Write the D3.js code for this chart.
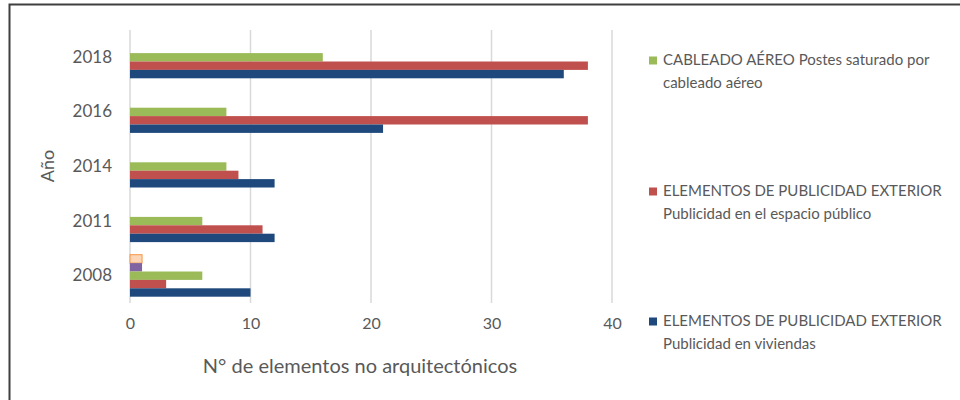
<!DOCTYPE html>
<html>
<head>
<meta charset="utf-8">
<script src="https://cdn.jsdelivr.net/npm/d3@7/dist/d3.min.js"></script>
<style>
  html, body { margin: 0; padding: 0; background: #fff; }
  svg { display: block; font-family: Lato, "Open Sans", sans-serif; }
  .tick text { fill: #595959; }
</style>
</head>
<body>
<svg id="chart" width="960" height="400"></svg>
<script>
// Categories (years) and series values
const years = ["2008", "2011", "2014", "2016", "2018"];
const cableadoAereo = [6, 6, 8, 8, 16];
const publicidadEspacio = [3, 11, 9, 38, 38];
const publicidadViviendas = [10, 12, 12, 21, 36];
const serie4 = [1, null, null, null, null];
const serie5 = [1, null, null, null, null];
const xTicks = [0, 10, 20, 30, 40];

const series = [
  { key: "s5", values: serie5, fill: "#FBD5B5", stroke: "#F79646" },
  { key: "s4", values: serie4, fill: "#8064A2", stroke: null },
  { key: "cab", values: cableadoAereo, fill: "#9BBB59", stroke: null },
  { key: "esp", values: publicidadEspacio, fill: "#C0504D", stroke: null },
  { key: "viv", values: publicidadViviendas, fill: "#1F497D", stroke: null }
];

const legendItems = [
  { lines: ["CABLEADO AÉREO Postes saturado por", "cableado aéreo"], color: "#9BBB59", y: 65 },
  { lines: ["ELEMENTOS DE PUBLICIDAD EXTERIOR", "Publicidad en el espacio público"], color: "#C0504D", y: 196 },
  { lines: ["ELEMENTOS DE PUBLICIDAD EXTERIOR", "Publicidad en viviendas"], color: "#1F497D", y: 326 }
];

const svg = d3.select("#chart");
const textColor = "#595959";

// Outer frame (top and left edges)
svg.append("path")
  .attr("d", "M9.5,400 L9.5,4.5 L960,4.5")
  .attr("fill", "none")
  .attr("stroke", "#3f3f3f")
  .attr("stroke-width", 2);

const x = d3.scaleLinear().domain([0, 40]).range([130, 612]);
const y = d3.scaleBand().domain(years.slice().reverse()).range([30, 303]).padding(0);
const inner = d3.scaleBand().domain(series.map(s => s.key))
  .range([0, y.bandwidth()]).paddingInner(0).paddingOuter(0.75);

// Vertical gridlines
svg.append("g").selectAll("line").data(xTicks).join("line")
  .attr("x1", d => x(d)).attr("x2", d => x(d))
  .attr("y1", 30).attr("y2", 303)
  .attr("stroke", "#d9d9d9").attr("stroke-width", 1.5);

// Bars
const groups = svg.append("g").selectAll("g").data(series).join("g");
groups.selectAll("rect")
  .data(s => years.map((yr, i) => ({ yr, v: s.values[i], s })).filter(d => d.v != null))
  .join("rect")
  .attr("x", x(0))
  .attr("y", d => y(d.yr) + inner(d.s.key))
  .attr("width", d => x(d.v) - x(0))
  .attr("height", inner.bandwidth())
  .attr("fill", d => d.s.fill)
  .attr("stroke", d => d.s.stroke || "none")
  .attr("stroke-width", 1);

// X axis labels
const xAxis = svg.append("g").attr("transform", "translate(0,318)")
  .call(d3.axisBottom(x).tickValues(xTicks).tickSize(0).tickPadding(0));
xAxis.select(".domain").remove();
xAxis.selectAll("text").attr("font-size", 16).attr("font-family", "Lato, sans-serif").attr("dy", "0.71em");

// Y axis labels
const yAxis = svg.append("g").attr("transform", "translate(112,0)")
  .call(d3.axisLeft(y).tickSize(0).tickPadding(0));
yAxis.select(".domain").remove();
yAxis.selectAll("text").attr("font-size", 17).attr("font-family", "Lato, sans-serif");

// Axis titles
svg.append("text")
  .attr("x", 360).attr("y", 373)
  .attr("text-anchor", "middle")
  .attr("font-size", 20)
  .attr("fill", textColor)
  .text("N° de elementos no arquitectónicos");

svg.append("text")
  .attr("transform", "translate(54,166) rotate(-90)")
  .attr("text-anchor", "middle")
  .attr("font-size", 18)
  .attr("fill", textColor)
  .text("Año");

// Legend
const leg = svg.append("g").selectAll("g").data(legendItems).join("g");
leg.append("rect")
  .attr("x", 649).attr("y", d => d.y - 8.5)
  .attr("width", 8).attr("height", 8)
  .attr("fill", d => d.color);
leg.each(function(d) {
  const t = d3.select(this).append("text")
    .attr("x", 663).attr("y", d.y)
    .attr("font-size", 15)
    .attr("fill", textColor);
  d.lines.forEach((ln, i) => {
    t.append("tspan").attr("x", 663).attr("dy", i === 0 ? 0 : 22.5).text(ln);
  });
});
</script>
</body>
</html>
